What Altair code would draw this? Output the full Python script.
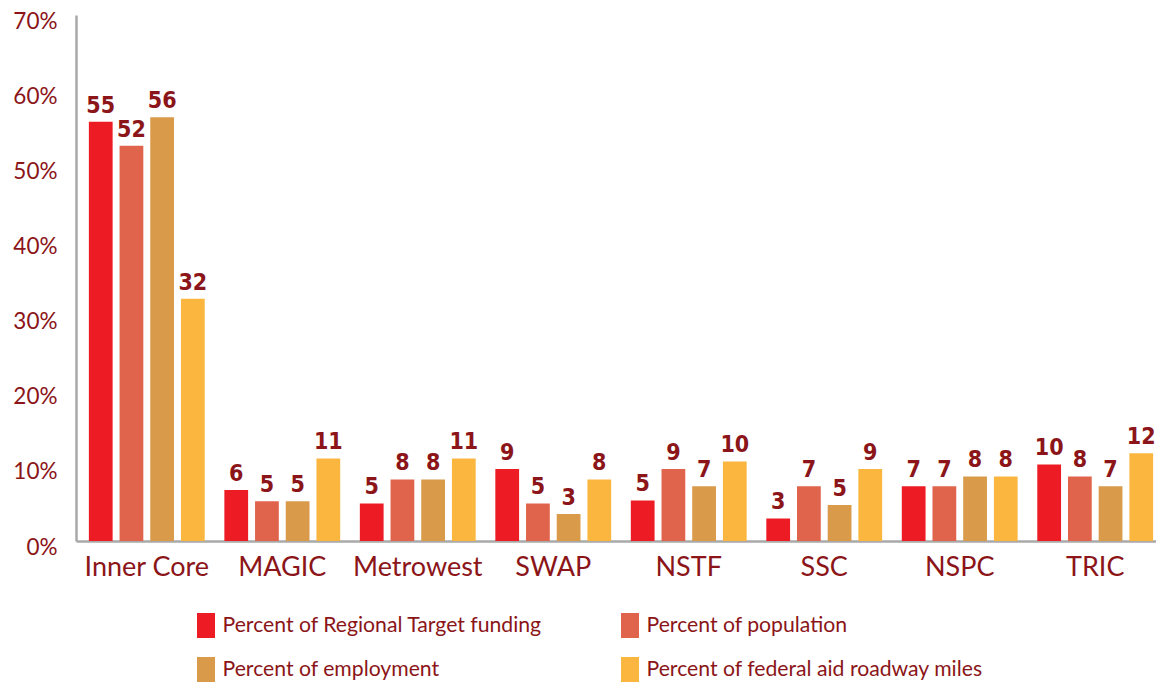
import altair as alt
import pandas as pd

regions = ["Inner Core", "MAGIC", "Metrowest", "SWAP", "NSTF", "SSC", "NSPC", "TRIC"]
series = [
    "Percent of Regional Target funding",
    "Percent of population",
    "Percent of employment",
    "Percent of federal aid roadway miles",
]
colors = ["#ed1c24", "#e0644c", "#d99a4a", "#fbb640"]

funding = [55.9, 6.8, 5.0, 9.6, 5.4, 3.0, 7.3, 10.2]
population = [52.7, 5.3, 8.2, 5.0, 9.6, 7.3, 7.3, 8.6]
employment = [56.5, 5.3, 8.2, 3.6, 7.3, 4.8, 8.6, 7.3]
roadway = [32.3, 11.0, 11.0, 8.2, 10.6, 9.6, 8.6, 11.7]

funding_lbl = [55, 6, 5, 9, 5, 3, 7, 10]
population_lbl = [52, 5, 8, 5, 9, 7, 7, 8]
employment_lbl = [56, 5, 8, 3, 7, 5, 8, 7]
roadway_lbl = [32, 11, 11, 8, 10, 9, 8, 12]

y_ticks = [0, 10, 20, 30, 40, 50, 60, 70]

vals = [funding, population, employment, roadway]
lbls = [funding_lbl, population_lbl, employment_lbl, roadway_lbl]
rows = []
for s, v, l in zip(series, vals, lbls):
    for r, vv, ll in zip(regions, v, l):
        rows.append({"region": r, "series": s, "value": vv, "label": str(ll)})
df = pd.DataFrame(rows)

DARK = "#8b1518"
GRAY = "#a9a9a9"

base = alt.Chart(df).encode(
    x=alt.X(
        "region:N",
        sort=regions,
        title=None,
        scale=alt.Scale(paddingInner=0.145, paddingOuter=0.095),
        axis=alt.Axis(
            domainColor=GRAY, domainWidth=2.5, ticks=False, tickSize=0,
            labelFont="Lato", labelFontSize=27, labelColor=DARK, labelAngle=0,
            labelBaseline="middle", labelPadding=26, labelLimit=300,
        ),
    ),
    xOffset=alt.XOffset(
        "series:N", sort=series,
        scale=alt.Scale(paddingInner=0.226, paddingOuter=0),
    ),
    y=alt.Y(
        "value:Q",
        title=None,
        scale=alt.Scale(domain=[0, 70.13], nice=False, zero=True),
        axis=alt.Axis(
            values=y_ticks, labelExpr="datum.value + '%'", grid=False,
            domainColor=GRAY, domainWidth=2.5, ticks=False, tickSize=0,
            labelFont="Lato", labelFontSize=22.5, labelColor=DARK,
            labelPadding=19, labelOffset=6,
        ),
    ),
)

bars = base.mark_bar().encode(
    color=alt.Color(
        "series:N",
        sort=series,
        scale=alt.Scale(domain=series, range=colors),
        legend=alt.Legend(
            title=None, orient="none", legendX=117.5, legendY=598,
            direction="horizontal", columns=2,
            symbolType="M-0.72,-1H0.72V1H-0.72Z", symbolSize=625,
            symbolStrokeWidth=0, symbolOpacity=1,
            labelFont="Lato", labelFontSize=21.2, labelColor=DARK,
            labelOffset=4, labelLimit=500, columnPadding=75, rowPadding=19,
        ),
    )
)

text = base.mark_text(
    dy=-9, baseline="alphabetic",
    font="Liberation Sans Narrow, DejaVu Sans Condensed, Roboto Condensed, Roboto",
    fontSize=23, fontWeight="bold", color=DARK,
).encode(text="label:N")

chart = (
    alt.layer(bars, text)
    .properties(
        width=1090, height=526,
        autosize=alt.AutoSizeParams(type="none"),
        padding={"left": 68, "top": 7, "right": -10, "bottom": 143},
    )
    .configure_view(stroke=None)
)

chart.save("out.html", embed_options={"renderer": "svg", "actions": False})
